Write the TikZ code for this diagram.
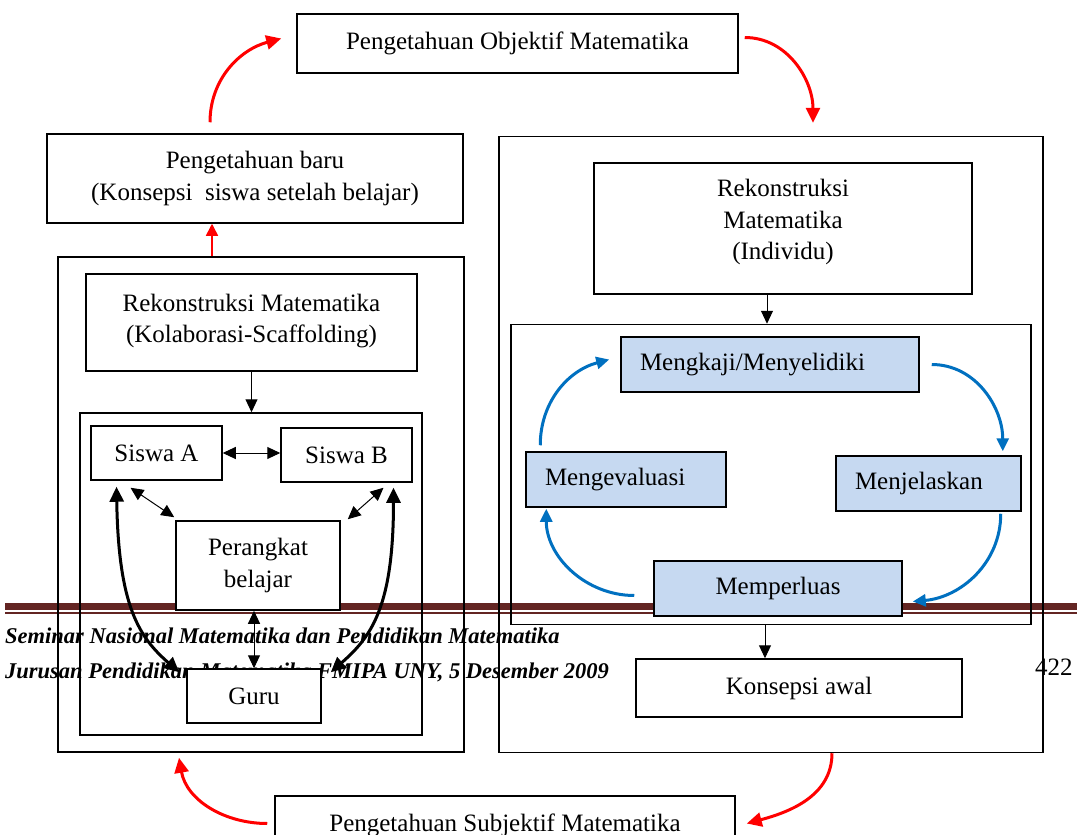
\documentclass[tikz,border=0pt]{standalone}
\usepackage{fontspec}
\setmainfont{Liberation Serif}
\usetikzlibrary{arrows.meta}
\definecolor{birumuda}{HTML}{C6D9F1}
\definecolor{biru}{HTML}{0070C0}
\definecolor{marun}{HTML}{632523}
\begin{document}
\begin{tikzpicture}[x=1pt,y=1pt,
 font=\fontsize{25}{31.5}\selectfont,
 kotak/.style={draw,line width=1.5pt,fill=white,align=center},
 bingkai/.style={draw,line width=1.5pt},
 langkah/.style={draw,line width=1.5pt,fill=birumuda,inner xsep=19pt,align=left,minimum height=55pt},
 panah/.style={line width=1pt,-{Triangle[length=13pt,width=12pt]}},
 panahdua/.style={line width=1pt,{Triangle[length=13pt,width=12pt]}-{Triangle[length=13pt,width=12pt]}},
 panahtebal/.style={line width=3pt,{Triangle[length=15pt,width=14pt]}-{Triangle[length=15pt,width=14pt]}},
 panahmerah/.style={red,line width=3pt,-{Triangle[length=15pt,width=14pt]}},
 panahmerahtipis/.style={red,line width=1.5pt,-{Triangle[length=12pt,width=12pt]}},
 panahbiru/.style={biru,line width=3pt,-{Triangle[length=13pt,width=12pt]}}]
\useasboundingbox (0,0) rectangle (1077,-835);
\clip (0,0) rectangle (1077,-835);

% footer halaman
\fill[marun] (5,-603) rectangle (1077,-610);
\fill[marun] (5,-612) rectangle (1077,-614);
\node[anchor=base west,inner sep=0,font=\fontsize{22.5}{26}\selectfont\bfseries\itshape] (seminar) at (5,-643) {Seminar Nasional Matematika dan Pendidikan Matematika};
\node[anchor=base west,inner sep=0,font=\fontsize{22.5}{26}\selectfont\bfseries\itshape] (jurusan) at (5,-678) {Jurusan Pendidikan Matematika FMIPA UNY, 5 Desember 2009};
\node[anchor=base west,inner sep=0] (hal) at (1035,-675) {422};

% kotak atas dan bawah
\node[kotak,minimum width=441pt,minimum height=59pt] (obj) at (517.5,-43.5) {Pengetahuan Objektif Matematika};
\node[kotak,minimum width=460pt,minimum height=59pt] (subj) at (505,-825.5) {Pengetahuan Subjektif Matematika};

% sisi kiri
\node[kotak,minimum width=416pt,minimum height=89pt] (baru) at (255,-178.5) {Pengetahuan baru\\(Konsepsi\ \ siswa setelah belajar)};
\node[bingkai,minimum width=406pt,minimum height=495pt] (kiri) at (261,-504.5) {};
\node[kotak,minimum width=331pt,minimum height=97pt] (rekkol) at (251.5,-322.5) {Rekonstruksi Matematika\\(Kolaborasi-Scaffolding)\\[-23pt]};
\node[bingkai,minimum width=342pt,minimum height=322pt] (dalamkiri) at (251,-574) {};
\node[kotak,minimum width=131pt,minimum height=54pt] (siswaA) at (156.5,-453) {Siswa A};
\node[kotak,minimum width=131pt,minimum height=54pt] (siswaB) at (346.5,-455) {Siswa B};
\node[kotak,minimum width=164pt,minimum height=89pt] (perangkat) at (258,-565.5) {Perangkat\\belajar};
\node[kotak,minimum width=134pt,minimum height=54pt] (guru) at (254,-696) {Guru};

% sisi kanan
\node[bingkai,minimum width=544pt,minimum height=616pt] (kanan) at (771,-444.5) {};
\node[kotak,minimum width=378pt,minimum height=131pt] (rekind) at (783,-228.5) {Rekonstruksi\\Matematika\\(Individu)\\[-14pt]};
\node[bingkai,minimum width=520pt,minimum height=300pt] (dalamkanan) at (771,-474.5) {};
\node[langkah,text width=260pt] (mengkaji) at (770,-364.5) {Mengkaji/Menyelidiki};
\node[langkah,text width=162pt] (evaluasi) at (626,-479.5) {Mengevaluasi};
\node[langkah,text width=147pt] (jelaskan) at (928.5,-483.5) {Menjelaskan};
\node[langkah,align=center,text width=210pt] (perluas) at (778,-588.5) {Memperluas};
\node[kotak,minimum width=326pt,minimum height=58pt] (awal) at (799,-688) {Konsepsi awal};

% panah merah
\draw[panahmerah] ([xshift=-45pt,yshift=11pt]baru.north) to[out=90,in=195] ([xshift=-15pt,yshift=5pt]obj.west);
\draw[panahmerah] ([xshift=6pt,yshift=6pt]obj.east) to[out=0,in=90] ([xshift=42pt,yshift=13pt]kanan.north);
\draw[panahmerah] ([xshift=61pt]kanan.south) to[out=-90,in=15] ([xshift=11pt,yshift=2pt]subj.east);
\draw[panahmerah] ([xshift=-7pt,yshift=2pt]subj.west) to[out=180,in=-80] ([xshift=-82pt,yshift=-5pt]kiri.south);
\coordinate (rA) at ([xshift=-49pt]kiri.north);
\draw[panahmerahtipis] (rA) -- (rA |- baru.south);

% panah hitam
\draw[panah] (rekkol.south) -- (rekkol.south |- dalamkiri.north);
\coordinate (rB) at ([xshift=-16pt]rekind.south);
\draw[panah] (rB) -- (rB |- dalamkanan.north);
\coordinate (rC) at ([xshift=-6pt]dalamkanan.south);
\draw[panah] (rC) -- (rC |- awal.north);
\draw[panahdua] (siswaA.east) -- (siswaA.east -| siswaB.west);
\draw[panahdua] ([xshift=-26pt,yshift=-7pt]siswaA.south) -- ([xshift=-1pt,yshift=3pt]perangkat.north west);
\draw[panahdua] ([xshift=37pt,yshift=-5pt]siswaB.south) -- ([xshift=7pt,yshift=1pt]perangkat.north east);
\draw[panahdua] (perangkat.south -| guru.north) -- (guru.north);
\draw[panahtebal] ([xshift=-40pt,yshift=-6pt]siswaA.south) .. controls +(2,-120) and +(-40,35) .. ([xshift=-7pt,yshift=-4pt]guru.north west);
\draw[panahtebal] ([xshift=47pt,yshift=-5pt]siswaB.south) .. controls +(0,-120) and +(40,35) .. ([xshift=9pt,yshift=-4pt]guru.north east);

% siklus biru
\draw[panahbiru] ([xshift=12pt]mengkaji.east) to[out=0,in=90] ([xshift=-19pt,yshift=4pt]jelaskan.north east);
\draw[panahbiru] ([xshift=-21pt,yshift=-2pt]jelaskan.south east) to[out=-90,in=5] ([xshift=10pt,yshift=-13pt]perluas.east);
\draw[panahbiru] ([xshift=-19pt,yshift=-7pt]perluas.west) to[out=180,in=-90] ([xshift=21pt,yshift=-1pt]evaluasi.south west);
\draw[panahbiru] ([xshift=15pt,yshift=6pt]evaluasi.north west) to[out=90,in=195] ([xshift=-11pt,yshift=5pt]mengkaji.west);
\end{tikzpicture}
\end{document}
